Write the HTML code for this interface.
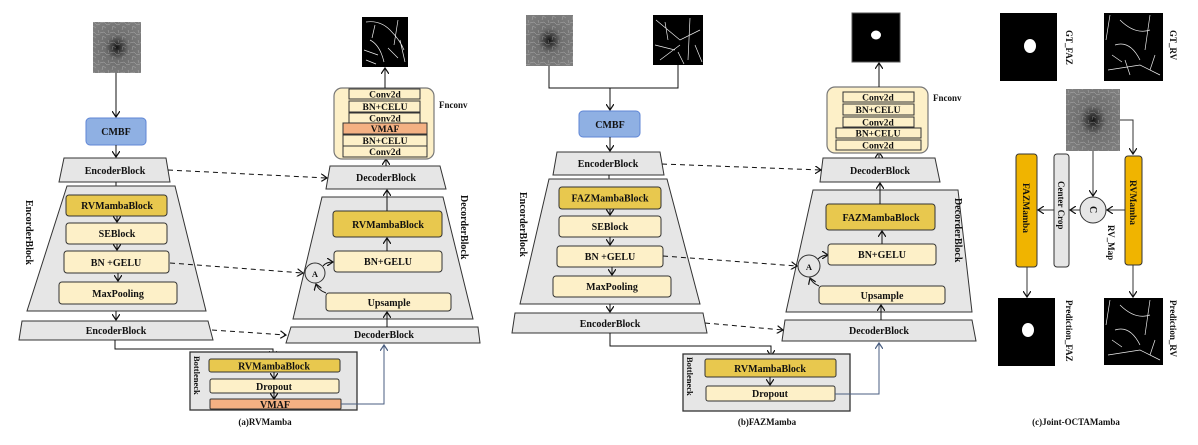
<!DOCTYPE html>
<html><head><meta charset="utf-8"><style>
html,body{margin:0;padding:0;background:#fff;}
svg{display:block;}
text{font-family:"Liberation Serif",serif;font-weight:bold;fill:#111;}
</style></head><body>
<svg width="1198" height="445" viewBox="0 0 1198 445" xmlns="http://www.w3.org/2000/svg">
<defs>
<marker id="ar" markerWidth="8" markerHeight="8" refX="6" refY="4" orient="auto" markerUnits="userSpaceOnUse">
<path d="M0,0 L6,4 L0,8" fill="none" stroke="#111" stroke-width="1.2"/></marker>
<marker id="arb" markerWidth="8" markerHeight="8" refX="6" refY="4" orient="auto" markerUnits="userSpaceOnUse">
<path d="M0,0 L6,4 L0,8" fill="none" stroke="#4a5e80" stroke-width="1.2"/></marker>
<radialGradient id="oct" cx="0.5" cy="0.5" r="0.6">
<stop offset="0" stop-color="#151515"/><stop offset="0.15" stop-color="#3a3a3a"/><stop offset="0.4" stop-color="#6e6e6e"/><stop offset="1" stop-color="#7e7e7e"/></radialGradient>
<pattern id="tex" width="10" height="10" patternUnits="userSpaceOnUse">
<path d="M0,3 L4,2 L7,5 L10,4 M2,10 L3,6 L6,8 M8,0 L9,3" stroke="#d8d8d8" stroke-width="0.5" fill="none"/></pattern>
</defs>

<!-- ============ (a) RVMamba ============ -->
<rect x="93" y="22" width="48" height="51" fill="url(#oct)"/>
<rect x="93" y="22" width="48" height="51" fill="url(#tex)" opacity="0.55"/>
<line x1="116" y1="73" x2="116" y2="117" stroke="#111" marker-end="url(#ar)"/>
<rect x="86" y="118" width="60" height="27" rx="4" fill="#8fb0e3" stroke="#5f86d6"/>
<text x="116" y="135" font-size="10" text-anchor="middle">CMBF</text>
<line x1="116" y1="145" x2="116" y2="157" stroke="#111" marker-end="url(#ar)"/>
<g font-size="10">
<polygon points="64,158 166,158 170,182 59,182" fill="#e6e6e6" stroke="#333"/>
<text x="115" y="174" text-anchor="middle">EncoderBlock</text>
<line x1="116" y1="182" x2="116" y2="193" stroke="#111" marker-end="url(#ar)"/>
<polygon points="67,186 175,186 206,311 27,311" fill="#e6e6e6" stroke="#333"/>
<rect x="66" y="195" width="101" height="21" rx="3" fill="#e8c84e" stroke="#333"/>
<text x="117" y="209" text-anchor="middle">RVMambaBlock</text>
<line x1="117" y1="216" x2="117" y2="222" stroke="#111" marker-end="url(#ar)"/>
<rect x="66" y="223" width="101" height="21" rx="3" fill="#fdf0c8" stroke="#333"/>
<text x="117" y="237" text-anchor="middle">SEBlock</text>
<line x1="117" y1="244" x2="117" y2="250" stroke="#111" marker-end="url(#ar)"/>
<rect x="64" y="251" width="105" height="22" rx="3" fill="#fdf0c8" stroke="#333"/>
<text x="116" y="266" text-anchor="middle">BN +GELU</text>
<line x1="118" y1="273" x2="118" y2="281" stroke="#111" marker-end="url(#ar)"/>
<rect x="59" y="282" width="118" height="22" rx="3" fill="#fdf0c8" stroke="#333"/>
<text x="118" y="297" text-anchor="middle">MaxPooling</text>
<text transform="translate(26,200) rotate(90)">EncorderBlock</text>
<line x1="116" y1="311" x2="116" y2="320" stroke="#111" marker-end="url(#ar)"/>
<polygon points="22,321 208,321 213,340 19,340" fill="#e6e6e6" stroke="#333"/>
<text x="116" y="334" text-anchor="middle">EncoderBlock</text>
</g>
<polyline points="115,340 115,349 273,349 273,357" fill="none" stroke="#111" marker-end="url(#ar)"/>
<rect x="190" y="352" width="167" height="58" fill="#e6e6e6" stroke="#333" stroke-width="1.3"/>
<text transform="translate(194,356) rotate(90)" font-size="8.5">Bottleneck</text>
<rect x="209" y="359" width="131" height="13" rx="2" fill="#e8c84e" stroke="#333"/>
<text x="274" y="369.5" font-size="10" text-anchor="middle">RVMambaBlock</text>
<rect x="210" y="379" width="129" height="14" rx="2" fill="#fdf0c8" stroke="#333"/>
<text x="274" y="390" font-size="10" text-anchor="middle">Dropout</text>
<rect x="210" y="399" width="131" height="10" rx="1" fill="#f4b183" stroke="#333"/>
<text x="275" y="408" font-size="10" text-anchor="middle">VMAF</text>
<line x1="274" y1="372" x2="274" y2="379" stroke="#111" marker-end="url(#ar)"/>
<line x1="274" y1="393" x2="274" y2="399" stroke="#111" marker-end="url(#ar)"/>
<polyline points="341,404 384,404 384,345" fill="none" stroke="#4a5e80" marker-end="url(#arb)"/>
<g font-size="10">
<polygon points="291,327 478,327 480,343 286,343" fill="#e6e6e6" stroke="#333"/>
<text x="384" y="338" text-anchor="middle">DecoderBlock</text>
<polygon points="322,197 443,197 473,319 293,319" fill="#e6e6e6" stroke="#333"/>
<line x1="387" y1="327" x2="387" y2="312" stroke="#111" marker-end="url(#ar)"/>
<rect x="326" y="293" width="125" height="18" rx="3" fill="#fdf0c8" stroke="#333"/>
<text x="389" y="306" text-anchor="middle">Upsample</text>
<circle cx="315" cy="273" r="10" fill="#e6e6e6" stroke="#333"/>
<text x="315" y="277" font-size="8.5" text-anchor="middle">A</text>
<path d="M326,293 Q318,290 316,284" fill="none" stroke="#111" marker-end="url(#ar)"/>
<path d="M323,266 Q326,262 333,262" fill="none" stroke="#111" marker-end="url(#ar)"/>
<rect x="334" y="251" width="108" height="21" rx="3" fill="#fdf0c8" stroke="#333"/>
<text x="388" y="265" text-anchor="middle">BN+GELU</text>
<line x1="387" y1="251" x2="387" y2="238" stroke="#111" marker-end="url(#ar)"/>
<rect x="333" y="211" width="109" height="26" rx="3" fill="#e8c84e" stroke="#333"/>
<text x="388" y="228" text-anchor="middle">RVMambaBlock</text>
<text transform="translate(461,195) rotate(90)">DecorderBlock</text>
<line x1="387" y1="211" x2="387" y2="190" stroke="#111" marker-end="url(#ar)"/>
<polygon points="330,166 440,166 446,189 326,189" fill="#e6e6e6" stroke="#333"/>
<text x="386" y="181" text-anchor="middle">DecoderBlock</text>
</g>
<line x1="386" y1="166" x2="386" y2="159" stroke="#111" marker-end="url(#ar)"/>
<rect x="334" y="88" width="100" height="71" rx="8" fill="#fdf0c8" stroke="#777" stroke-width="1.2"/>
<g font-size="9.5">
<rect x="349" y="89" width="71" height="10" fill="#fdf0c8" stroke="#333"/><text x="385" y="97.5" text-anchor="middle">Conv2d</text>
<rect x="349" y="101" width="71" height="11" fill="#fdf0c8" stroke="#333"/><text x="385" y="110" text-anchor="middle">BN+CELU</text>
<rect x="349" y="113" width="71" height="10" fill="#fdf0c8" stroke="#333"/><text x="385" y="121.5" text-anchor="middle">Conv2d</text>
<rect x="343" y="123" width="84" height="11" fill="#f4b183" stroke="#333"/><text x="385" y="132" text-anchor="middle">VMAF</text>
<rect x="343" y="135" width="84" height="11" fill="#fdf0c8" stroke="#333"/><text x="385" y="144" text-anchor="middle">BN+CELU</text>
<rect x="343" y="146" width="84" height="11" fill="#fdf0c8" stroke="#333"/><text x="385" y="155" text-anchor="middle">Conv2d</text>
</g>
<text x="439" y="108" font-size="9">Fnconv</text>
<line x1="385" y1="88" x2="385" y2="68" stroke="#111" marker-end="url(#ar)"/>
<rect x="362" y="17" width="46" height="50" fill="#000"/>
<g stroke="#eee" stroke-width="0.7" fill="none">
<path d="M366,22 Q380,20 390,30 T404,50 M370,40 Q380,45 384,62 M398,20 L394,45 M364,50 L378,55 M400,40 L405,62 M375,25 L372,38 M388,48 L398,58 M366,60 L376,64"/></g>
<g stroke="#111" stroke-dasharray="5,4" fill="none">
<line x1="168" y1="170" x2="327" y2="178" marker-end="url(#ar)"/>
<line x1="170" y1="263" x2="303" y2="273" marker-end="url(#ar)"/>
<line x1="212" y1="330" x2="286" y2="335" marker-end="url(#ar)"/>
</g>
<text x="265" y="425" font-size="9" text-anchor="middle">(a)RVMamba</text>

<!-- ============ (b) FAZMamba ============ -->
<rect x="526" y="15" width="47" height="51" fill="url(#oct)"/>
<rect x="526" y="15" width="47" height="51" fill="url(#tex)" opacity="0.55"/>
<rect x="653" y="15" width="50" height="50" fill="#000"/>
<g stroke="#eee" stroke-width="0.7" fill="none"><path d="M656,20 L680,40 L700,30 M660,60 L680,45 M690,18 L688,60 M655,45 L675,50 M695,45 L702,62 M665,22 L668,40 M678,52 L684,64"/></g>
<polyline points="549,66 549,88 678,88 678,65" fill="none" stroke="#111"/>
<line x1="610" y1="88" x2="610" y2="110" stroke="#111" marker-end="url(#ar)"/>
<rect x="579" y="111" width="61" height="26" rx="4" fill="#8fb0e3" stroke="#5f86d6"/>
<text x="610" y="128" font-size="10" text-anchor="middle">CMBF</text>
<line x1="610" y1="137" x2="610" y2="151" stroke="#111" marker-end="url(#ar)"/>
<g font-size="10">
<polygon points="557,152 660,152 664,175 553,175" fill="#e6e6e6" stroke="#333"/>
<text x="608" y="167" text-anchor="middle">EncoderBlock</text>
<line x1="609" y1="175" x2="609" y2="186" stroke="#111" marker-end="url(#ar)"/>
<polygon points="549,179 667,179 700,304 520,304" fill="#e6e6e6" stroke="#333"/>
<rect x="559" y="187" width="102" height="22" rx="3" fill="#e8c84e" stroke="#333"/>
<text x="610" y="201.5" text-anchor="middle">FAZMambaBlock</text>
<line x1="610" y1="209" x2="610" y2="215" stroke="#111" marker-end="url(#ar)"/>
<rect x="559" y="216" width="102" height="21" rx="3" fill="#fdf0c8" stroke="#333"/>
<text x="610" y="230" text-anchor="middle">SEBlock</text>
<line x1="610" y1="237" x2="610" y2="245" stroke="#111" marker-end="url(#ar)"/>
<rect x="557" y="246" width="106" height="21" rx="3" fill="#fdf0c8" stroke="#333"/>
<text x="610" y="260" text-anchor="middle">BN +GELU</text>
<line x1="612" y1="267" x2="612" y2="275" stroke="#111" marker-end="url(#ar)"/>
<rect x="553" y="276" width="118" height="21" rx="3" fill="#fdf0c8" stroke="#333"/>
<text x="612" y="290" text-anchor="middle">MaxPooling</text>
<text transform="translate(520,192) rotate(90)">EncorderBlock</text>
<line x1="610" y1="304" x2="610" y2="312" stroke="#111" marker-end="url(#ar)"/>
<polygon points="515,313 703,313 707,333 512,333" fill="#e6e6e6" stroke="#333"/>
<text x="610" y="327" text-anchor="middle">EncoderBlock</text>
</g>
<polyline points="610,333 610,346 771,346 771,356" fill="none" stroke="#111" marker-end="url(#ar)"/>
<rect x="683" y="354" width="167" height="57" fill="#e6e6e6" stroke="#333" stroke-width="1.3"/>
<text transform="translate(687,357) rotate(90)" font-size="8.5">Bottleneck</text>
<rect x="705" y="359" width="131" height="18" rx="2" fill="#e8c84e" stroke="#333"/>
<text x="770" y="372" font-size="10" text-anchor="middle">RVMambaBlock</text>
<line x1="770" y1="377" x2="770" y2="385" stroke="#111" marker-end="url(#ar)"/>
<rect x="706" y="386" width="129" height="15" rx="2" fill="#fdf0c8" stroke="#333"/>
<text x="770" y="397" font-size="10" text-anchor="middle">Dropout</text>
<polyline points="835,394 879,394 879,343" fill="none" stroke="#4a5e80" marker-end="url(#arb)"/>
<g font-size="10">
<polygon points="785,320 972,320 976,341 782,341" fill="#e6e6e6" stroke="#333"/>
<text x="879" y="334" text-anchor="middle">DecoderBlock</text>
<polygon points="813,190 958,190 972,312 786,312" fill="#e6e6e6" stroke="#333"/>
<line x1="881" y1="320" x2="881" y2="305" stroke="#111" marker-end="url(#ar)"/>
<rect x="819" y="286" width="126" height="18" rx="3" fill="#fdf0c8" stroke="#333"/>
<text x="882" y="299" text-anchor="middle">Upsample</text>
<circle cx="809" cy="266" r="11" fill="#e6e6e6" stroke="#333"/>
<text x="809" y="270" font-size="8.5" text-anchor="middle">A</text>
<path d="M819,286 Q812,283 810,278" fill="none" stroke="#111" marker-end="url(#ar)"/>
<path d="M818,259 Q822,255 828,255" fill="none" stroke="#111" marker-end="url(#ar)"/>
<rect x="828" y="244" width="108" height="21" rx="3" fill="#fdf0c8" stroke="#333"/>
<text x="882" y="258" text-anchor="middle">BN+GELU</text>
<line x1="882" y1="244" x2="882" y2="231" stroke="#111" marker-end="url(#ar)"/>
<rect x="826" y="204" width="109" height="26" rx="3" fill="#e8c84e" stroke="#333"/>
<text x="881" y="221" text-anchor="middle">FAZMambaBlock</text>
<text transform="translate(955,198) rotate(90)">DecorderBlock</text>
<line x1="880" y1="204" x2="880" y2="183" stroke="#111" marker-end="url(#ar)"/>
<polygon points="823,158 935,158 940,182 820,182" fill="#e6e6e6" stroke="#333"/>
<text x="880" y="174" text-anchor="middle">DecoderBlock</text>
</g>
<line x1="879" y1="158" x2="879" y2="152" stroke="#111" marker-end="url(#ar)"/>
<rect x="827" y="87" width="101" height="66" rx="8" fill="#fdf0c8" stroke="#777" stroke-width="1.2"/>
<g font-size="9.5">
<rect x="843" y="92" width="71" height="10" fill="#fdf0c8" stroke="#333"/><text x="878" y="100.5" text-anchor="middle">Conv2d</text>
<rect x="843" y="104" width="71" height="11" fill="#fdf0c8" stroke="#333"/><text x="878" y="113" text-anchor="middle">BN+CELU</text>
<rect x="843" y="117" width="71" height="10" fill="#fdf0c8" stroke="#333"/><text x="878" y="125.5" text-anchor="middle">Conv2d</text>
<rect x="836" y="128" width="85" height="10" fill="#fdf0c8" stroke="#333"/><text x="878" y="136.5" text-anchor="middle">BN+CELU</text>
<rect x="836" y="140" width="85" height="10" fill="#fdf0c8" stroke="#333"/><text x="878" y="148.5" text-anchor="middle">Conv2d</text>
</g>
<text x="933" y="101" font-size="9">Fnconv</text>
<line x1="879" y1="87" x2="879" y2="63" stroke="#111" marker-end="url(#ar)"/>
<rect x="852" y="13" width="48" height="49" fill="#000" stroke="#555"/>
<ellipse cx="876" cy="35" rx="5" ry="4.5" fill="#fff"/>
<g stroke="#111" stroke-dasharray="5,4" fill="none">
<line x1="662" y1="164" x2="821" y2="170" marker-end="url(#ar)"/>
<line x1="663" y1="256" x2="797" y2="266" marker-end="url(#ar)"/>
<line x1="705" y1="323" x2="783" y2="330" marker-end="url(#ar)"/>
</g>
<text x="767" y="425" font-size="9" text-anchor="middle">(b)FAZMamba</text>

<!-- ============ (c) Joint ============ -->
<rect x="1000" y="13" width="57" height="68" fill="#000"/>
<ellipse cx="1030" cy="46" rx="6" ry="7" fill="#fff"/>
<text transform="translate(1066,30) rotate(90)" font-size="9">GT_FAZ</text>
<rect x="1104" y="13" width="59" height="68" fill="#000"/>
<g stroke="#eee" stroke-width="0.7" fill="none"><path d="M1110,15 L1106,40 M1115,45 Q1130,40 1140,60 M1120,20 Q1135,35 1150,30 M1108,70 L1140,65 L1160,75 M1150,15 L1145,50 M1130,75 L1125,60 M1112,55 L1122,62 M1155,55 L1150,70"/></g>
<text transform="translate(1170,30) rotate(90)" font-size="9">GT_RV</text>
<rect x="1066" y="89" width="54" height="62" fill="url(#oct)"/>
<rect x="1066" y="89" width="54" height="62" fill="url(#tex)" opacity="0.55"/>
<polyline points="1120,120 1133,120 1133,154" fill="none" stroke="#333" marker-end="url(#ar)"/>
<rect x="1125" y="156" width="17" height="109" rx="3" fill="#f0b400" stroke="#333"/>
<text transform="translate(1130,180) rotate(90)" font-size="9.5">RVMamba</text>
<line x1="1133" y1="265" x2="1133" y2="297" stroke="#333" marker-end="url(#ar)"/>
<rect x="1104" y="298" width="59" height="67" fill="#000"/>
<g stroke="#eee" stroke-width="0.7" fill="none"><path d="M1110,300 L1106,325 M1115,330 Q1130,325 1140,345 M1120,305 Q1135,320 1150,315 M1108,355 L1140,350 L1160,360 M1150,300 L1145,335 M1112,340 L1122,347 M1155,340 L1150,355"/></g>
<text transform="translate(1170,300) rotate(90)" font-size="9">Prediction_RV</text>
<line x1="1093" y1="151" x2="1093" y2="196" stroke="#333" marker-end="url(#ar)"/>
<circle cx="1093" cy="210" r="13" fill="#e6e6e6" stroke="#333"/>
<text transform="translate(1090,206) rotate(90)" font-size="10">C</text>
<line x1="1125" y1="210" x2="1107" y2="210" stroke="#333" marker-end="url(#ar)"/>
<text transform="translate(1108,225) rotate(90)" font-size="9">RV_Map</text>
<rect x="1054" y="154" width="15" height="113" rx="3" fill="#e6e6e6" stroke="#333"/>
<text transform="translate(1058,181) rotate(90)" font-size="9">Center Crop</text>
<line x1="1080" y1="210" x2="1070" y2="210" stroke="#333" marker-end="url(#ar)"/>
<rect x="1016" y="154" width="21" height="113" rx="3" fill="#f0b400" stroke="#333"/>
<text transform="translate(1023,183) rotate(90)" font-size="9.5">FAZMamba</text>
<line x1="1054" y1="210" x2="1038" y2="210" stroke="#333" marker-end="url(#ar)"/>
<line x1="1027" y1="267" x2="1027" y2="297" stroke="#333" marker-end="url(#ar)"/>
<rect x="998" y="298" width="57" height="68" fill="#000"/>
<ellipse cx="1028" cy="330" rx="6" ry="7" fill="#fff"/>
<text transform="translate(1066,300) rotate(90)" font-size="9">Prediction_FAZ</text>
<text x="1076" y="425" font-size="9" text-anchor="middle">(c)Joint-OCTAMamba</text>
</svg>
</body></html>
